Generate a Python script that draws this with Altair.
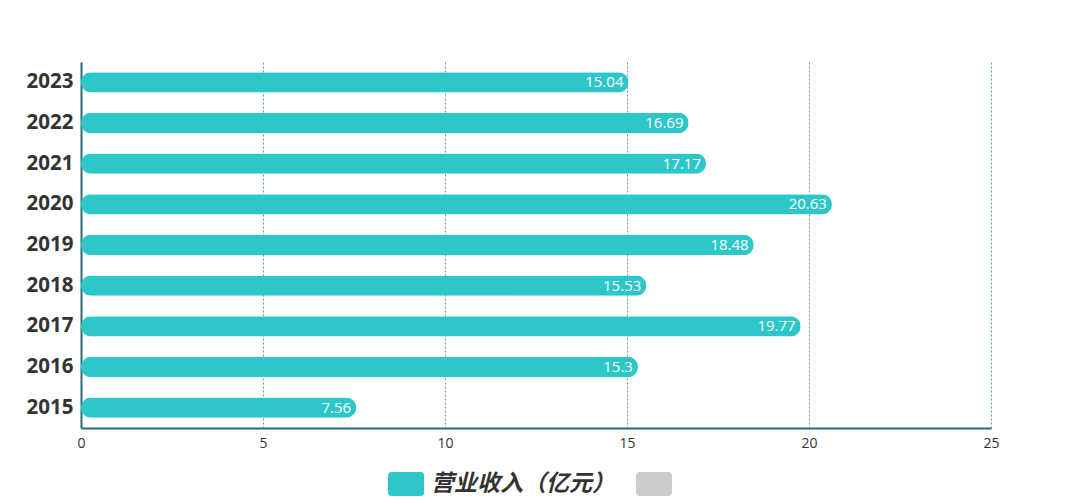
import altair as alt
import pandas as pd

years = ["2015", "2016", "2017", "2018", "2019", "2020", "2021", "2022", "2023"]
revenue = [7.56, 15.3, 19.77, 15.53, 18.48, 20.63, 17.17, 16.69, 15.04]
labels = ["7.56", "15.3", "19.77", "15.53", "18.48", "20.63", "17.17", "16.69", "15.04"]
series_names = ["营业收入（亿元）", "_"]
series_colors = ["#2ec7c9", "#cccccc"]
year_order = list(reversed(years))

df = pd.DataFrame({"year": years, "value": revenue, "label": labels,
                   "series": [series_names[0]] * len(years)})

rounded = ("M-1.2,-1 H1.2 A0.3,0.3 0 0 1 1.5,-0.7 V0.7 A0.3,0.3 0 0 1 1.2,1 "
           "H-1.2 A0.3,0.3 0 0 1 -1.5,0.7 V-0.7 A0.3,0.3 0 0 1 -1.2,-1 Z")

y_enc = alt.Y("year:N", sort=year_order,
              scale=alt.Scale(paddingInner=0.5, paddingOuter=0.25),
              axis=alt.Axis(title=None, ticks=False, labelFontSize=20.5, labelFontWeight="bold",
                            labelColor="#333333", labelFont="Open Sans", labelPadding=8,
                            domainColor="#2a6e72", domainWidth=2, grid=False))

bars = alt.Chart(df).mark_bar(cornerRadius=10).encode(
    x=alt.X("value:Q", scale=alt.Scale(domain=[0, 25], nice=False),
            axis=alt.Axis(title=None, values=[0, 5, 10, 15, 20, 25], ticks=False,
                          labelFontSize=14, labelColor="#333333", labelFont="Open Sans",
                          labelPadding=8, labelFlush=False, domainColor="#2a6e72", domainWidth=2,
                          grid=True, gridColor="#6f9a9c", gridDash=[2, 2], gridWidth=1)),
    y=y_enc,
    color=alt.Color("series:N",
                    scale=alt.Scale(domain=series_names, range=series_colors),
                    legend=alt.Legend(title=None, orient="none", direction="horizontal",
                                      legendX=313, legendY=410,
                                      symbolType=rounded, symbolSize=576,
                                      symbolStrokeWidth=0, symbolOpacity=1,
                                      labelFontSize=23, labelFontStyle="italic",
                                      labelFontWeight="bold", labelColor="#333333",
                                      labelFont="Noto Sans CJK SC", labelOffset=13,
                                      labelLimit=400, columnPadding=21,
                                      labelExpr="datum.label == '_' ? '' : datum.label")),
)

text = alt.Chart(df).mark_text(align="right", baseline="middle", dx=-5, color="white",
                               fontSize=15, font="Open Sans").encode(
    x="value:Q",
    y=alt.Y("year:N", sort=year_order),
    text="label:N",
)

chart = (bars + text).properties(
    width=910, height=366,
    autosize=alt.AutoSizeParams(type="none"),
    padding={"left": 73, "top": 54, "right": 40, "bottom": 70},
).configure_view(stroke=None)

chart.save("out.html", embed_options={"renderer": "svg", "actions": False})
